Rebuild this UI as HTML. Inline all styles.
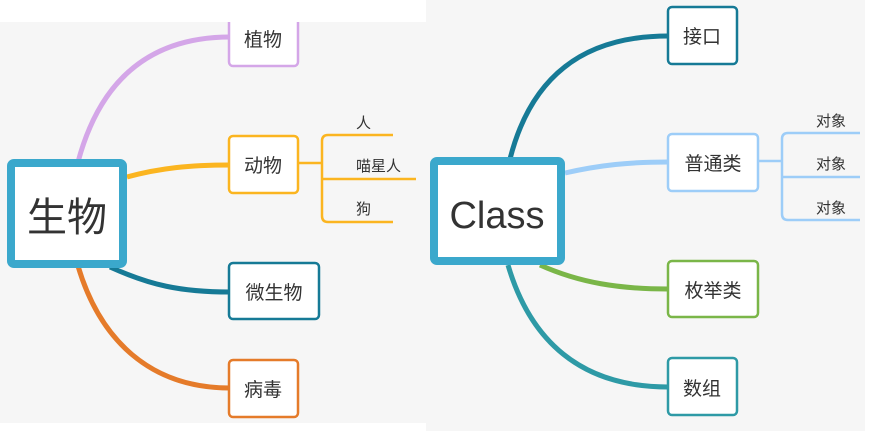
<!DOCTYPE html>
<html><head><meta charset="utf-8"><style>
html,body{margin:0;padding:0;background:#fff;width:869px;height:446px;overflow:hidden}
svg{display:block}
text{font-family:"Liberation Sans","Noto Sans CJK SC",sans-serif;fill:#333}
</style></head><body>
<svg width="869" height="446" viewBox="0 0 869 446" xmlns="http://www.w3.org/2000/svg">
<rect x="0" y="22" width="426" height="401" fill="#f6f6f6"/>
<rect x="426" y="0" width="439" height="431" fill="#f6f6f6"/>

<g fill="none" stroke-width="5">
<path d="M78 162 C100 80 150 37 230 37" stroke="#d4a6e8"/>
<path d="M127 177 C160 168 190 165 230 165" stroke="#fbb520"/>
<path d="M110 267 C150 285 180 292 230 292" stroke="#167a96"/>
<path d="M78 266 C100 340 150 388 230 388" stroke="#e57b2a"/>
</g>
<g fill="none" stroke="#fbb520" stroke-width="2.5">
<path d="M299 163 H322"/>
<path d="M393 135 H328 Q322 135 322 141 V216 Q322 222 328 222 H393"/>
<path d="M322 179 H416"/>
</g>
<text x="356" y="128" font-size="15">人</text>
<text x="356" y="171" font-size="15">喵星人</text>
<text x="356" y="214" font-size="15">狗</text>

<rect x="11" y="163" width="112" height="101" rx="3" fill="#fff" stroke="#3ba8cc" stroke-width="8"/>
<text x="67" y="231" font-size="40" text-anchor="middle">生物</text>
<rect x="229" y="12" width="69" height="54" rx="4" fill="#fff" stroke="#d4a6e8" stroke-width="2.5"/>
<rect x="0" y="0" width="426" height="22" fill="#fff"/>
<text x="263" y="46" font-size="19" text-anchor="middle">植物</text>
<rect x="229" y="136" width="69" height="57" rx="4" fill="#fff" stroke="#fbb520" stroke-width="2.5"/>
<text x="263" y="172" font-size="19" text-anchor="middle">动物</text>
<rect x="229" y="263" width="90" height="56" rx="4" fill="#fff" stroke="#167a96" stroke-width="2.5"/>
<text x="274" y="299" font-size="19" text-anchor="middle">微生物</text>
<rect x="229" y="360" width="69" height="57" rx="4" fill="#fff" stroke="#e57b2a" stroke-width="2.5"/>
<text x="263" y="396" font-size="19" text-anchor="middle">病毒</text>

<g fill="none" stroke-width="5">
<path d="M510 159 C530 80 580 36 668 36" stroke="#167a96"/>
<path d="M565 173 C600 165 630 162 668 162" stroke="#9dcdf8"/>
<path d="M540 265 C580 283 620 289 668 289" stroke="#7ab648"/>
<path d="M508 265 C530 340 580 387 668 387" stroke="#2e9aa6"/>
</g>
<g fill="none" stroke="#9dcdf8" stroke-width="2.5">
<path d="M759 161 H782"/>
<path d="M860 133 H788 Q782 133 782 139 V214 Q782 220 788 220 H860"/>
<path d="M782 177 H860"/>
</g>
<text x="816" y="126" font-size="15">对象</text>
<text x="816" y="169" font-size="15">对象</text>
<text x="816" y="213" font-size="15">对象</text>

<rect x="434" y="161" width="127" height="100" rx="3" fill="#fff" stroke="#3ba8cc" stroke-width="8"/>
<text x="497" y="228" font-size="38" text-anchor="middle">Class</text>
<rect x="668" y="7" width="69" height="57" rx="4" fill="#fff" stroke="#167a96" stroke-width="2.5"/>
<text x="702" y="43" font-size="19" text-anchor="middle">接口</text>
<rect x="668" y="134" width="90" height="57" rx="4" fill="#fff" stroke="#9dcdf8" stroke-width="2.5"/>
<text x="713" y="170" font-size="19" text-anchor="middle">普通类</text>
<rect x="668" y="261" width="90" height="56" rx="4" fill="#fff" stroke="#7ab648" stroke-width="2.5"/>
<text x="713" y="297" font-size="19" text-anchor="middle">枚举类</text>
<rect x="668" y="358" width="69" height="57" rx="4" fill="#fff" stroke="#2e9aa6" stroke-width="2.5"/>
<text x="702" y="395" font-size="19" text-anchor="middle">数组</text>
</svg>
</body></html>
